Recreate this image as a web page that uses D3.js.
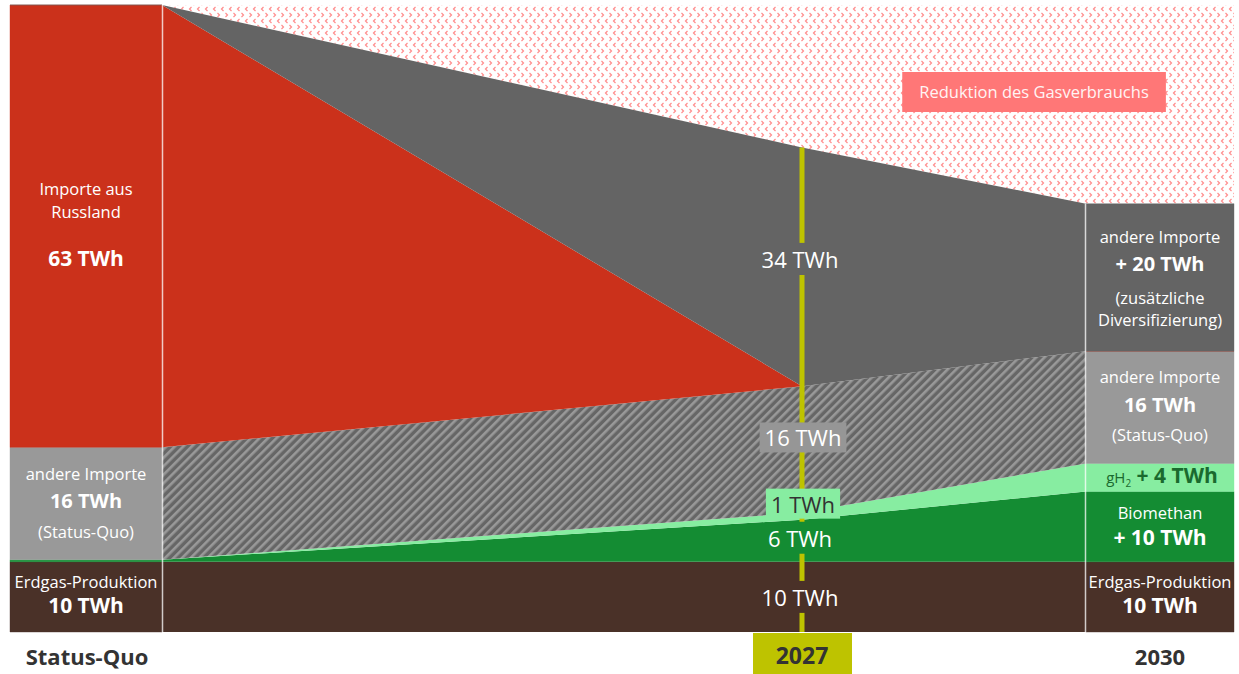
<!DOCTYPE html>
<html>
<head>
<meta charset="utf-8">
<script src="https://cdn.jsdelivr.net/npm/d3@7"></script>
<style>
  html, body { margin: 0; padding: 0; background: #fff; }
  svg { display: block; font-family: "Open Sans", sans-serif; }
</style>
</head>
<body>
<svg id="chart"></svg>
<script>
// values in TWh (Status-Quo, 2027, 2030)
const stages = ["Status-Quo", "2027", "2030"];
const erdgasProduktion = [10, 10, 10];
const biomethan = [0.3, 6, 10];
const wasserstoff = [0, 1, 4];
const importeStatusQuo = [16, 18, 16];
const importeRussland = [63, 0, 0];
const importeZusaetzlich = [0, 34, 21];

const keys = ["erdgas", "bio", "h2", "importSQ", "russland", "importNeu"];

const WIDTH = 1239, HEIGHT = 674;
const svg = d3.select("#chart").attr("width", WIDTH).attr("height", HEIGHT);

const fill = {
    erdgas: "#4a3128", bio: "#148c33", h2: "#87eda1",
    importSQ: "#999999", russland: "#cb311b", importNeu: "#646464"
};
const midFill = Object.assign({}, fill, { importSQ: "url(#hatch)" });

// patterns
const defs = svg.append("defs");
const hatch = defs.append("pattern")
    .attr("id", "hatch")
    .attr("patternUnits", "userSpaceOnUse")
    .attr("width", 6).attr("height", 6)
    .attr("patternTransform", "rotate(45)");
hatch.append("rect").attr("width", 6).attr("height", 6).attr("fill", "#666");
hatch.append("rect").attr("width", 2.6).attr("height", 6).attr("fill", "#999");

const dots = defs.append("pattern")
    .attr("id", "dots")
    .attr("patternUnits", "userSpaceOnUse")
    .attr("width", 8).attr("height", 12);
dots.append("rect").attr("width", 8).attr("height", 12).attr("fill", "#fff");
dots.append("path").attr("d", "M1.5,1L3.5,3L1.5,5").attr("fill", "none")
    .attr("stroke", "#ff8c8c").attr("stroke-width", 1.2);
dots.append("path").attr("d", "M7.5,7L5.5,9L7.5,11").attr("fill", "none")
    .attr("stroke", "#ff8c8c").attr("stroke-width", 1.2);

// data rows + stack
const rows = stages.map((s, i) => ({
    stage: s,
    erdgas: erdgasProduktion[i],
    bio: biomethan[i],
    h2: wasserstoff[i],
    importSQ: importeStatusQuo[i],
    russland: importeRussland[i],
    importNeu: importeZusaetzlich[i]
}));
const series = d3.stack().keys(keys)(rows);
const totals = rows.map(r => d3.sum(keys, k => r[k]));
const yMax = d3.max(totals);

const x = d3.scaleLinear().domain([0, 1, 2]).range([162, 802, 1086]);
const y = d3.scaleLinear().domain([0, yMax]).range([632, 5]);
const leftColW = 152, rightColW = 148;

const pts = [
    { x: x(0) - leftColW, i: 0 }, { x: x(0), i: 0 },
    { x: x(1), i: 1 },
    { x: x(2), i: 2 }, { x: x(2) + rightColW, i: 2 }
];
const segments = [
    { name: "left", p: pts.slice(0, 2) },
    { name: "mid", p: pts.slice(1, 4) },
    { name: "right", p: pts.slice(3, 5) }
];

// reduction area above the stack
svg.append("path")
    .attr("fill", "url(#dots)")
    .attr("d", d3.area()
        .x(p => p.x)
        .y0(() => y(yMax))
        .y1(p => y(totals[p.i]))(pts.slice(1)));

series.forEach(layer => {
    const area = d3.area()
        .x(p => p.x)
        .y0(p => y(layer[p.i][0]))
        .y1(p => y(layer[p.i][1]));
    segments.forEach(seg => {
        svg.append("path")
            .attr("d", area(seg.p))
            .attr("fill", seg.name === "mid" ? midFill[layer.key] : fill[layer.key])
            .attr("stroke", seg.name === "mid" ? "none" : fill[layer.key])
            .attr("stroke-width", 0.4);
    });
});

// column separators
svg.append("line")
    .attr("x1", x(0) + 0.5).attr("x2", x(0) + 0.5)
    .attr("y1", y(0)).attr("y2", y(totals[0]))
    .attr("stroke", "#fff").attr("stroke-opacity", 0.75).attr("stroke-width", 1.5);
svg.append("line")
    .attr("x1", x(2) - 0.5).attr("x2", x(2) - 0.5)
    .attr("y1", y(0)).attr("y2", y(totals[2]))
    .attr("stroke", "#fff").attr("stroke-opacity", 0.75).attr("stroke-width", 1.5);

const band = (key, i) => {
    const s = series.find(l => l.key === key)[i];
    return (y(s[0]) + y(s[1])) / 2;
};

// 2027 marker line with gaps behind plain labels
const lineColor = "#bec300";
const gaps = [band("importNeu", 1) + 1, band("bio", 1) + 6, band("erdgas", 1) + 9]
    .map(b => [b - 25, b + 7]).sort((a, b) => a[0] - b[0]);
let start = y(totals[1]);
gaps.forEach(g => {
    svg.append("line").attr("x1", x(1)).attr("x2", x(1))
        .attr("y1", start).attr("y2", g[0])
        .attr("stroke", lineColor).attr("stroke-width", 5);
    start = g[1];
});
svg.append("line").attr("x1", x(1)).attr("x2", x(1))
    .attr("y1", start).attr("y2", y(0))
    .attr("stroke", lineColor).attr("stroke-width", 5);

function label(xc, yb, txt, opts = {}) {
    return svg.append("text")
        .attr("x", xc).attr("y", yb)
        .attr("text-anchor", "middle")
        .attr("font-size", opts.size || 16.5)
        .attr("font-weight", opts.bold ? 700 : 400)
        .attr("fill", opts.color || "#fff")
        .text(txt);
}
function boxed(xc, yb, txt, bg, color, size) {
    const t = label(xc, yb, txt, { size: size, color: color });
    const bb = t.node().getBBox();
    svg.insert("rect", () => t.node())
        .attr("x", bb.x - 5).attr("y", bb.y)
        .attr("width", bb.width + 10).attr("height", bb.height)
        .attr("fill", bg);
    return t;
}

// left column
const lx = x(0) - leftColW / 2;
let m = band("russland", 0);
label(lx, m - 31, "Importe aus");
label(lx, m - 8, "Russland");
label(lx, m + 40, "63 TWh", { bold: true, size: 21 });
m = band("importSQ", 0);
label(lx, m - 23.5, "andere Importe");
label(lx, m + 4.5, "16 TWh", { bold: true, size: 20 });
label(lx, m + 34.5, "(Status-Quo)");
m = band("erdgas", 0);
label(lx, m - 8.5, "Erdgas-Produktion");
label(lx, m + 16, "10 TWh", { bold: true, size: 21 });
label(lx + 1, 665, stages[0], { bold: true, size: 22, color: "#333" });

// 2027
const mx = x(1) - 2;
label(mx, band("importNeu", 1) + 1, "34 TWh", { size: 22 });
boxed(x(1) + 1, band("importSQ", 1) - 3, "16 TWh", "#969696", "#fff", 22);
boxed(x(1) + 1, band("h2", 1) - 3.5, "1 TWh", "#87eda1", "#333", 22);
label(mx, band("bio", 1) + 6.5, "6 TWh", { size: 22 });
label(mx, band("erdgas", 1) + 9, "10 TWh", { size: 22 });
svg.append("rect").attr("fill", lineColor)
    .attr("x", x(1) - 49).attr("y", y(0) + 1)
    .attr("width", 99).attr("height", HEIGHT - y(0) - 1);
label(x(1), 664, stages[1], { bold: true, size: 23, color: "#333" });

// right column
const rx = x(2) + rightColW / 2;
m = band("importNeu", 2);
label(rx, m - 34.5, "andere Importe");
label(rx, m - 6.5, "+ 20 TWh", { bold: true, size: 20 });
label(rx, m + 26.5, "(zusätzliche");
label(rx, m + 48.5, "Diversifizierung)");
m = band("importSQ", 2);
label(rx, m - 24, "andere Importe");
label(rx, m + 4.5, "16 TWh", { bold: true, size: 20 });
label(rx, m + 34, "(Status-Quo)");
m = band("h2", 2);
const h2t = label(rx + 2, m + 5.5, "", { color: "#1a6a2e" });
h2t.append("tspan").attr("font-size", 15).text("gH");
h2t.append("tspan").attr("font-size", 10).attr("dy", 4).text("2");
h2t.append("tspan").attr("font-size", 21).attr("font-weight", 700).attr("dy", -4).text(" + 4 TWh");
m = band("bio", 2);
label(rx, m - 7.5, "Biomethan");
label(rx, m + 18.5, "+ 10 TWh", { bold: true, size: 21 });
m = band("erdgas", 2);
label(rx, m - 8.5, "Erdgas-Produktion");
label(rx, m + 16, "10 TWh", { bold: true, size: 21 });
label(rx, 665, stages[2], { bold: true, size: 22, color: "#333" });

// reduction tag
const red = label(1034, 98, "Reduktion des Gasverbrauchs", { size: 16.5, color: "#fff4f4" });
const rb = red.node().getBBox();
svg.insert("rect", () => red.node())
    .attr("x", rb.x - 17).attr("y", 72)
    .attr("width", rb.width + 34).attr("height", 40)
    .attr("fill", "#ff7777");
</script>
</body>
</html>
